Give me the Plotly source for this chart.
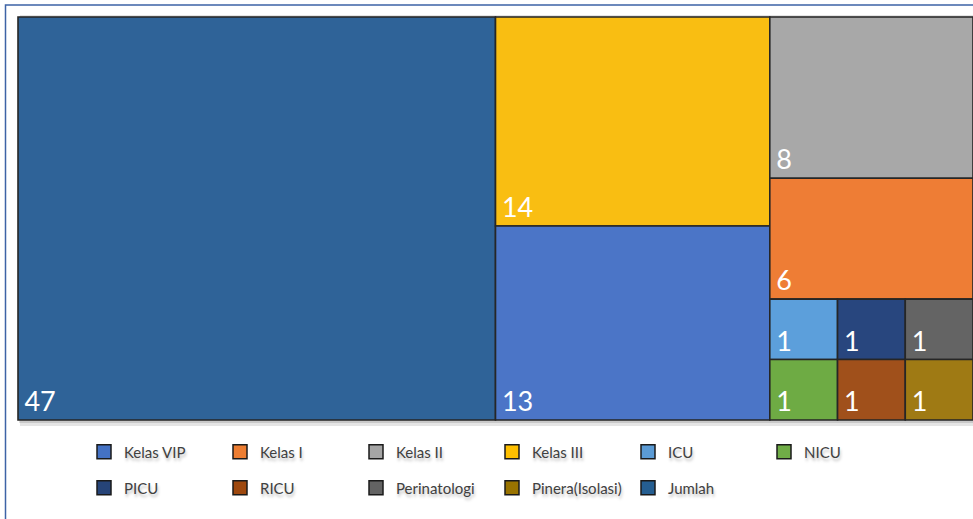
import plotly.graph_objects as go

# ---- data ----
categories = ["Kelas VIP", "Kelas I", "Kelas II", "Kelas III", "ICU", "NICU",
              "PICU", "RICU", "Perinatologi", "Pinera(Isolasi)", "Jumlah"]
values = [13, 6, 8, 14, 1, 1, 1, 1, 1, 1, 47]
tile_colors = ["#4b75c7", "#ee7d35", "#a8a8a8", "#f9be12", "#5c9fdb", "#6eab44",
               "#28467e", "#a0501b", "#646464", "#9f7a14", "#2f6398"]
legend_colors = ["#4472c4", "#ed7d31", "#a5a5a5", "#ffc000", "#5b9bd5", "#70ad47",
                 "#264478", "#9e480e", "#636363", "#997300", "#255e91"]

W, H = 973, 519
ML, MR, MT, MB = 18, 0, 17, 99
PW, PH = W - ML - MR, H - MT - MB


def px_x(p):
    return (p - ML) / PW


def px_y(p):
    return (H - MB - p) / PH


fig = go.Figure()

fig.add_trace(go.Treemap(
    labels=categories,
    parents=[""] * len(categories),
    values=values,
    sort=True,
    tiling=dict(packing="squarify", squarifyratio=1, pad=0),
    pathbar=dict(visible=False),
    marker=dict(colors=tile_colors, line=dict(color="#262626", width=1.6),
                pad=dict(t=0, l=0, r=0, b=0)),
    texttemplate="\u2009%{value}",
    textposition="bottom left",
    textfont=dict(family="Lato", size=27, color="white"),
    hovertemplate="%{label}: %{value}<extra></extra>",
))

# legend entries (dummy traces)
for i, (name, col) in enumerate(zip(categories, legend_colors)):
    fig.add_trace(go.Scatter(
        x=[None], y=[None], mode="markers", name=name,
        marker=dict(symbol="square", size=14, color=col,
                    line=dict(color="#1a1a1a", width=1.5)),
        legend="legend" if i < 6 else "legend2",
        showlegend=True, hoverinfo="skip",
    ))

legend_common = dict(
    orientation="h", xanchor="left", yanchor="middle",
    font=dict(family="Lato", size=15, color="#404040",
              shadow="1px 3px 3px rgba(0,0,0,0.25)"),
    entrywidth=91, entrywidthmode="pixels",
    bgcolor="rgba(0,0,0,0)", borderwidth=0, itemsizing="trace",
)

fig.update_layout(
    width=W, height=H,
    margin=dict(l=ML, r=MR, t=MT, b=MB),
    paper_bgcolor="white", plot_bgcolor="white",
    xaxis=dict(visible=False), yaxis=dict(visible=False),
    legend=dict(x=px_x(84), y=px_y(452), **legend_common),
    legend2=dict(x=px_x(84), y=px_y(488), **legend_common),
    shapes=[
        # soft shadow under the treemap
        dict(type="rect", xref="paper", yref="paper", layer="below",
             x0=px_x(20), x1=px_x(978), y0=px_y(15), y1=px_y(426),
             fillcolor="rgba(0,0,0,0.10)", line=dict(width=0)),
        dict(type="rect", xref="paper", yref="paper", layer="below",
             x0=px_x(19), x1=px_x(976), y0=px_y(16), y1=px_y(423),
             fillcolor="rgba(0,0,0,0.12)", line=dict(width=0)),
        # outer chart frame
        dict(type="rect", xref="paper", yref="paper", layer="below",
             x0=px_x(5.5), x1=px_x(990), y0=px_y(5), y1=px_y(540),
             fillcolor="rgba(0,0,0,0)", line=dict(color="#3d63a6", width=1.5)),
    ],
)

fig.write_html(
    "out.html",
    config={"displayModeBar": False},
    post_script="document.body.style.margin='0';document.body.style.overflow='hidden';",
)
